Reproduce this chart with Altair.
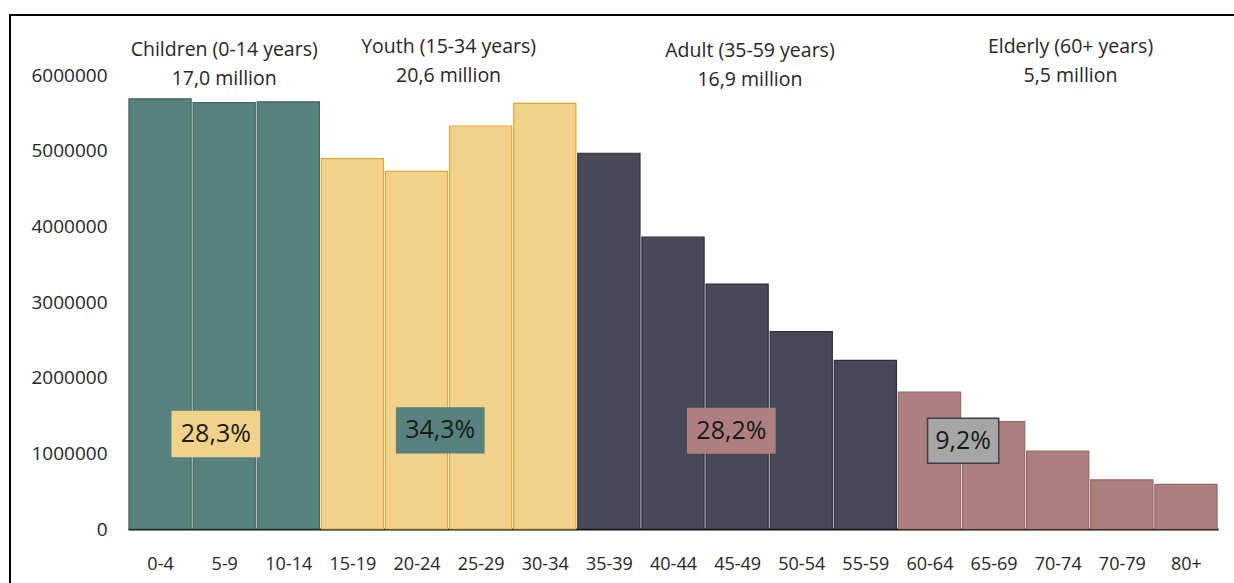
import altair as alt
import pandas as pd

# Population by five-year age band (persons)
ages = ["0-4", "5-9", "10-14", "15-19", "20-24", "25-29", "30-34", "35-39",
        "40-44", "45-49", "50-54", "55-59", "60-64", "65-69", "70-74", "70-79", "80+"]
population = [5690000, 5640000, 5650000,
              4900000, 4730000, 5330000, 5630000,
              4970000, 3860000, 3240000, 2610000, 2230000,
              1810000, 1420000, 1030000, 650000, 590000]
age_group = ["Children"] * 3 + ["Youth"] * 4 + ["Adult"] * 5 + ["Elderly"] * 5

# Age categories with their headline text
groups = ["Children", "Youth", "Adult", "Elderly"]
group_titles = ["Children (0-14 years)", "Youth (15-34 years)",
                "Adult (35-59 years)", "Elderly (60+ years)"]
group_totals = ["17,0 million", "20,6 million", "16,9 million", "5,5 million"]
group_shares = ["28,3%", "34,3%", "28,2%", "9,2%"]

# Styling
FILL = ["#56817c", "#f0d28a", "#474a56", "#ad7f7f"]
EDGE = ["#43635f", "#e0aa35", "#2e3039", "#966868"]
BOX_FILL = ["#f0d28a", "#56817c", "#ad7f7f", "#a6a6a6"]
BOX_EDGE = ["#f0d28a", "#56817c", "#ad7f7f", "#3d3f4a"]
FONT = "Open Sans"
TEXT = "#262626"

# Where the headings and share boxes sit (x in band index, y in persons)
title_x = [1.0, 4.5, 9.2, 14.2]
title_y = [6340000, 6370000, 6320000, 6370000]
box_x0 = [0.19, 3.69, 8.23, 11.97]
box_x1 = [1.55, 5.05, 9.59, 13.08]
box_y0 = [960000, 1010000, 1005000, 870000]
box_y1 = [1555000, 1600000, 1595000, 1465000]

W, H = 1090, 499
Y_MAX = 6600000

bars = pd.DataFrame({"idx": list(range(len(ages))), "age": ages,
                     "population": population, "group": age_group})
heads = pd.DataFrame({"group": groups, "title": group_titles, "total": group_totals,
                      "x": title_x, "y": title_y})
heads["text"] = heads.apply(lambda r: [r["title"], r["total"]], axis=1)
boxes = pd.DataFrame({"group": groups, "share": group_shares,
                      "x0": box_x0, "x1": box_x1, "y0": box_y0, "y1": box_y1})
boxes["xc"] = (boxes["x0"] + boxes["x1"]) / 2
boxes["yc"] = (boxes["y0"] + boxes["y1"]) / 2

label_expr = "[" + ",".join(f"'{a}'" for a in ages) + "][datum.value]"

xscale = alt.Scale(domain=[-0.5, len(ages) - 0.5], nice=False, zero=False)
yscale = alt.Scale(domain=[0, Y_MAX], nice=False)

x_axis = alt.Axis(values=list(range(len(ages))), labelExpr=label_expr, title=None,
                  ticks=False, grid=False, domain=True, domainColor="#000000",
                  domainWidth=2, labelFont=FONT, labelFontSize=18, labelColor=TEXT,
                  labelPadding=26, labelAngle=0)
y_axis = alt.Axis(values=[0, 1000000, 2000000, 3000000, 4000000, 5000000, 6000000],
                  format="d", title=None, ticks=False, grid=False, domain=False,
                  labelFont=FONT, labelFontSize=19, labelColor=TEXT, labelPadding=21)

fill_scale = alt.Scale(domain=groups, range=FILL)
edge_scale = alt.Scale(domain=groups, range=EDGE)

bar_layer = alt.Chart(bars).transform_calculate(
    x0="datum.idx - 0.485", x1="datum.idx + 0.485"
).mark_rect(strokeWidth=1.2).encode(
    x=alt.X("x0:Q", scale=xscale, axis=x_axis),
    x2="x1:Q",
    y=alt.Y("population:Q", scale=yscale, axis=y_axis),
    y2=alt.datum(0),
    fill=alt.Fill("group:N", scale=fill_scale, legend=None),
    stroke=alt.Stroke("group:N", scale=edge_scale, legend=None),
)

head_layer = alt.Chart(heads).mark_text(
    font=FONT, fontSize=19.5, color=TEXT, lineHeight=29, baseline="middle", align="center"
).encode(
    x=alt.X("x:Q", scale=xscale),
    y=alt.Y("y:Q", scale=yscale),
    text="text",
)

box_layer = alt.Chart(boxes).mark_rect(strokeWidth=1.5).encode(
    x=alt.X("x0:Q", scale=xscale),
    x2="x1:Q",
    y=alt.Y("y0:Q", scale=yscale),
    y2="y1:Q",
    fill=alt.Fill("group:N", scale=alt.Scale(domain=groups, range=BOX_FILL), legend=None),
    stroke=alt.Stroke("group:N", scale=alt.Scale(domain=groups, range=BOX_EDGE), legend=None),
)

share_layer = alt.Chart(boxes).mark_text(
    font=FONT, fontSize=25, color="#1a1a1a", baseline="middle", align="center"
).encode(
    x=alt.X("xc:Q", scale=xscale),
    y=alt.Y("yc:Q", scale=yscale),
    text="share:N",
)

# Outer frame around the figure panel
frame = alt.Chart(pd.DataFrame({"f": [0]})).mark_rect(
    fill=None, stroke="#000000", strokeWidth=2
).encode(
    x=alt.value(-118), x2=alt.value(2000),
    y=alt.value(-15), y2=alt.value(800),
)

chart = alt.layer(frame, bar_layer, box_layer, share_layer, head_layer).resolve_scale(
    fill="independent", stroke="independent"
).properties(
    width=W, height=H,
    padding={"left": 128, "top": 30, "right": 16, "bottom": 54},
    autosize=alt.AutoSizeParams(type="none"),
    background="#ffffff",
).configure_view(stroke=None)

chart.save("out.html", embed_options={"renderer": "svg", "actions": False})
